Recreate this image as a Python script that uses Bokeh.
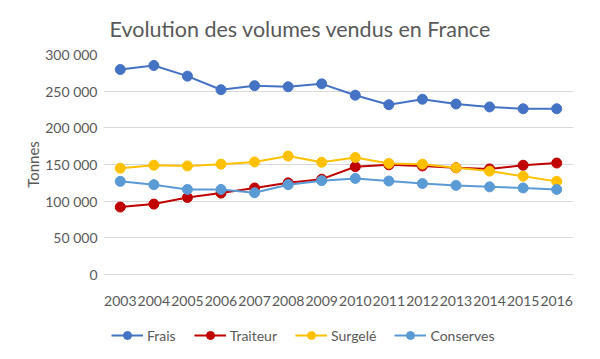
from bokeh.plotting import figure
from bokeh.layouts import column
from bokeh.models import (FactorRange, Range1d, FixedTicker, Legend, LegendItem)
from bokeh.embed import file_html
from bokeh.resources import INLINE

years = ["2003", "2004", "2005", "2006", "2007", "2008", "2009",
         "2010", "2011", "2012", "2013", "2014", "2015", "2016"]
frais = [279500, 285000, 270500, 252000, 257500, 256000, 260000,
         244500, 231500, 239000, 232500, 228500, 226000, 226000]
traiteur = [92000, 96000, 105000, 111000, 118000, 125000, 130000,
            147000, 149500, 148000, 145500, 144000, 149000, 152000]
surgele = [145000, 149000, 148000, 150500, 153500, 161500, 153000,
           159500, 151500, 150500, 145500, 141000, 134000, 127000]
conserves = [127000, 122500, 116000, 116000, 111500, 122500, 128000,
             131000, 127500, 124000, 121500, 119500, 118000, 116000]

series_names = ["Frais", "Traiteur", "Surgelé", "Conserves"]
series_colors = ["#4472C4", "#C00000", "#FFC000", "#5B9BD5"]
series_values = [frais, traiteur, surgele, conserves]

y_ticks = [0, 50000, 100000, 150000, 200000, 250000, 300000]
y_tick_labels = ["0", "50 000", "100 000", "150 000", "200 000", "250 000", "300 000"]

title_text = "Evolution des volumes vendus en France"
y_label = "Tonnes"

FONT = "Lato"
TXT = "#595959"

p = figure(frame_width=470, frame_height=220, output_backend="svg", toolbar_location=None,
           x_range=FactorRange(*years), y_range=Range1d(0, 300000),
           min_border_left=103, min_border_right=19, min_border_top=54,
           min_border_bottom=38)
p.outline_line_color = None
p.background_fill_color = "white"
p.border_fill_color = "white"

p.title.text = title_text
p.title.align = "left"
p.title.offset = 6
p.title.text_font = FONT
p.title.text_font_size = "21.5px"
p.title.text_font_style = "normal"
p.title.text_color = TXT
p.title.standoff = 25

p.xgrid.grid_line_color = None
p.ygrid.grid_line_color = "#D9D9D9"
p.ygrid.grid_line_width = 1

p.yaxis.ticker = FixedTicker(ticks=y_ticks)
p.yaxis.major_label_overrides = {t: l for t, l in zip(y_ticks, y_tick_labels)}
p.yaxis.axis_line_color = None
p.yaxis.major_tick_line_color = None
p.yaxis.minor_tick_line_color = None
p.yaxis.major_label_standoff = 0
p.yaxis.axis_label = y_label
p.yaxis.axis_label_text_font = FONT
p.yaxis.axis_label_text_font_size = "15px"
p.yaxis.axis_label_text_font_style = "normal"
p.yaxis.axis_label_text_color = TXT
p.yaxis.axis_label_standoff = 0

p.xaxis.axis_line_color = "#D9D9D9"
p.xaxis.major_tick_line_color = None
p.xaxis.minor_tick_line_color = None
p.xaxis.major_label_standoff = 15

for ax in (p.xaxis, p.yaxis):
    ax.major_label_text_font = FONT
    ax.major_label_text_font_size = "14px"
    ax.major_label_text_color = TXT

for name, color, vals in zip(series_names, series_colors, series_values):
    p.line(years, vals, line_color=color, line_width=2)
    p.scatter(years, vals, size=10, fill_color=color, line_color=color)

# legend strip below the chart (its own series renderers are outside its visible range)
lg = figure(width=592, height=39, output_backend="svg", toolbar_location=None,
            x_range=FactorRange(*years), y_range=Range1d(10_000_000, 20_000_000),
            x_axis_type=None, y_axis_type=None, min_border=0)
lg.outline_line_color = None
lg.xgrid.grid_line_color = None
lg.ygrid.grid_line_color = None
items = []
for name, color, vals in zip(series_names, series_colors, series_values):
    l = lg.line(years, vals, line_color=color, line_width=2)
    s = lg.scatter(years, vals, size=10, fill_color=color, line_color=color)
    items.append(LegendItem(label=name, renderers=[l, s]))

legend = Legend(items=items, orientation="horizontal", location=(8, 6),
                glyph_width=32, glyph_height=20, label_standoff=4, spacing=18,
                padding=2, margin=0, border_line_color=None,
                background_fill_alpha=0,
                label_text_font=FONT, label_text_font_size="14px",
                label_text_color=TXT)
lg.add_layout(legend, "center")

layout = column(p, lg, spacing=0)
open("out.html", "w").write(file_html(layout, INLINE))
